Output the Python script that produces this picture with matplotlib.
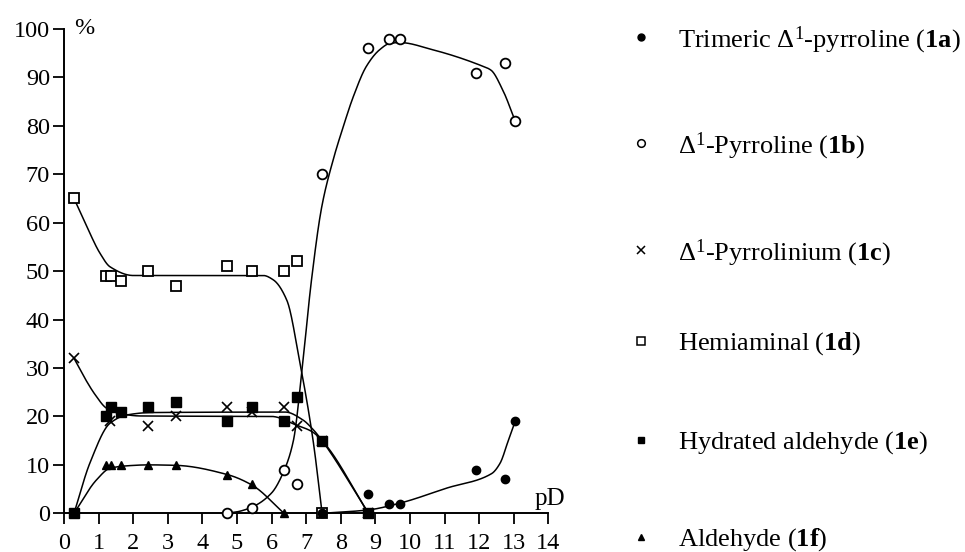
import numpy as np
import matplotlib
matplotlib.use("Agg")
import matplotlib.pyplot as plt
from matplotlib.lines import Line2D

plt.rcParams['font.family'] = ['Liberation Serif', 'DejaVu Serif']
plt.rcParams['mathtext.fontset'] = 'custom'
plt.rcParams['mathtext.rm'] = 'Liberation Serif'
plt.rcParams['mathtext.bf'] = 'Liberation Serif:bold'
plt.rcParams['mathtext.it'] = 'Liberation Serif:italic'

# measured points (pD, %)
pd_1a = [7.46, 8.8, 9.4, 9.71, 11.91, 12.75, 13.04]
val_1a = [0, 4, 2, 2, 9, 7, 19]
pd_1b = [4.7, 5.44, 6.36, 6.72, 7.46, 8.8, 9.4, 9.71, 11.91, 12.75, 13.04]
val_1b = [0, 1, 9, 6, 70, 96, 98, 98, 91, 93, 81]
pd_1c = [0.29, 1.33, 2.44, 3.24, 4.7, 5.44, 6.36, 6.72, 7.46, 8.8]
val_1c = [32, 19, 18, 20, 22, 21, 22, 18, 15, 0]
pd_1d = [0.29, 1.21, 1.35, 1.64, 2.44, 3.24, 4.7, 5.44, 6.36, 6.72, 7.46]
val_1d = [65, 49, 49, 48, 50, 47, 51, 50, 50, 52, 0]
pd_1e = [0.29, 1.21, 1.35, 1.64, 2.44, 3.24, 4.72, 5.44, 6.36, 6.72, 7.46, 8.8]
val_1e = [0, 20, 22, 21, 22, 23, 19, 22, 19, 24, 15, 0]
pd_1f = [0.29, 1.21, 1.35, 1.64, 2.44, 3.24, 4.72, 5.44, 6.36, 7.46]
val_1f = [0, 10, 10, 10, 10, 10, 8, 6, 0, 0]

# fitted curves
fit_1a_x = [7.46, 8.8, 9.71, 11.06, 12.36, 12.6, 12.84, 13.04]
fit_1a_y = [0, 0.7, 2.1, 5.2, 8.2, 10.3, 15, 19]
fit_1b_x = [4.7, 5.0, 5.44, 6.0, 6.36, 6.63, 6.88, 7.15, 7.45, 7.78, 8.07, 8.36, 8.74,
            9.12, 9.41, 9.7, 10.66, 12.0, 12.34, 12.68, 13.04]
fit_1b_y = [0, 0.3, 1.3, 4.2, 8.8, 15, 29.6, 48, 63.3, 73, 79.8, 86, 92.3,
            95.7, 97, 97.2, 95.7, 92.6, 91.5, 87.4, 81]
fit_1c_x = [0.29, 0.61, 0.9, 1.23, 1.62, 2.2, 6.0, 6.72, 7.16, 7.46, 8.8]
fit_1c_y = [32, 27.8, 24.5, 21.7, 20.6, 20.1, 20.0, 18.2, 16.9, 15, 0]
fit_1d_x = [0.29, 0.66, 1.04, 1.33, 2.0, 5.76, 6.05, 6.44, 6.82, 7.2, 7.46]
fit_1d_y = [65, 59.2, 53.7, 50.9, 49.1, 49.1, 48.2, 44, 31, 15, 0]
fit_1e_x = [0.29, 0.75, 1.33, 1.81, 2.5, 6.4, 6.9, 7.2, 7.46, 8.8]
fit_1e_y = [0, 10.4, 18.6, 20.3, 20.8, 20.9, 19.3, 17.3, 15, 0]
fit_1f_x = [0.29, 0.94, 1.33, 1.81, 2.44, 3.24, 4.72, 5.44, 6.36]
fit_1f_y = [0, 6.9, 9.3, 9.8, 10, 9.9, 8, 5.8, 0]

labels = [r"Trimeric Δ$^{1}$-pyrroline ($\mathbf{1a}$)",
          r"Δ$^{1}$-Pyrroline ($\mathbf{1b}$)",
          r"Δ$^{1}$-Pyrrolinium ($\mathbf{1c}$)",
          r"Hemiaminal ($\mathbf{1d}$)",
          r"Hydrated aldehyde ($\mathbf{1e}$)",
          r"Aldehyde ($\mathbf{1f}$)"]


def pchip(x, y, xn):
    # monotone cubic hermite, keeps the curves from overshooting
    x = np.asarray(x, float)
    y = np.asarray(y, float)
    h = np.diff(x)
    d = np.diff(y) / h
    m = np.zeros_like(y)
    for k in range(1, len(x) - 1):
        if d[k-1] * d[k] > 0:
            w1 = 2*h[k] + h[k-1]
            w2 = h[k] + 2*h[k-1]
            m[k] = (w1 + w2) / (w1/d[k-1] + w2/d[k])
    m[0] = d[0]
    m[-1] = d[-1]
    i = np.clip(np.searchsorted(x, xn) - 1, 0, len(h) - 1)
    t = (xn - x[i]) / h[i]
    h00 = 2*t**3 - 3*t**2 + 1
    h10 = t**3 - 2*t**2 + t
    h01 = -2*t**3 + 3*t**2
    h11 = t**3 - t**2
    return h00*y[i] + h10*h[i]*m[i] + h01*y[i+1] + h11*h[i]*m[i+1]


fig = plt.figure(figsize=(9.65, 5.52), dpi=100)
ax = fig.add_axes([0.0663, 0.0701, 0.502, 0.8774])

fits = [(fit_1a_x, fit_1a_y), (fit_1b_x, fit_1b_y), (fit_1c_x, fit_1c_y),
        (fit_1d_x, fit_1d_y), (fit_1e_x, fit_1e_y), (fit_1f_x, fit_1f_y)]
for fx, fy in fits:
    xs = np.linspace(fx[0], fx[-1], 600)
    ax.plot(xs, pchip(fx, fy, xs), color='black', lw=1.1, zorder=2, clip_on=False)

# markers: open ones first, filled ones on top
ax.plot(pd_1d, val_1d, ls='none', marker='s', ms=6.5, mfc='white', mec='black', mew=1.3, zorder=3, clip_on=False)
ax.plot(pd_1b, val_1b, ls='none', marker='o', ms=7, mfc='white', mec='black', mew=1.3, zorder=3, clip_on=False)
ax.plot(pd_1c, val_1c, ls='none', marker='x', ms=7.5, mec='black', mew=1.2, zorder=4, clip_on=False)
ax.plot(pd_1e, val_1e, ls='none', marker='s', ms=6.5, color='black', zorder=5, clip_on=False)
ax.plot(pd_1a, val_1a, ls='none', marker='o', ms=6, color='black', zorder=5, clip_on=False)
ax.plot(pd_1f, val_1f, ls='none', marker='^', ms=6, color='black', zorder=5, clip_on=False)

ax.set_xlim(0, 14)
ax.set_ylim(0, 100)
ax.set_xticks(range(0, 15))
ax.set_yticks(range(0, 101, 10))
ax.spines['top'].set_visible(False)
ax.spines['right'].set_visible(False)
ax.spines['left'].set_linewidth(1.4)
ax.spines['bottom'].set_linewidth(1.4)
ax.tick_params(direction='out', length=8, width=1.3, labelsize=17.5, pad=2)
ax.tick_params(axis='x', pad=6)

ax.text(0.29, 100, "%", fontsize=17.5, ha='left', va='center')
ax.text(13.6, 1.7, "pD", fontsize=18, ha='left', va='baseline')

# legend, placed entry by entry
leg_marks = [dict(marker='o', ms=5, mfc='black', mec='black'),
             dict(marker='o', ms=5.5, mfc='white', mec='black', mew=1.1),
             dict(marker='x', ms=6, mec='black', mew=1.1),
             dict(marker='s', ms=5.5, mfc='white', mec='black', mew=1.1),
             dict(marker='s', ms=4.8, mfc='black', mec='black'),
             dict(marker='^', ms=4.8, mfc='black', mec='black')]
leg_y = [37, 143, 250, 341, 440, 537]
for lab, mk, yp in zip(labels, leg_marks, leg_y):
    fy = 1 - yp / 552
    fig.add_artist(Line2D([641 / 965], [fy], ls='none', transform=fig.transFigure, **mk))
    fig.text(678 / 965, fy - 3 / 552, lab, fontsize=19, ha='left', va='center')

fig.savefig("out.png", dpi=100)
